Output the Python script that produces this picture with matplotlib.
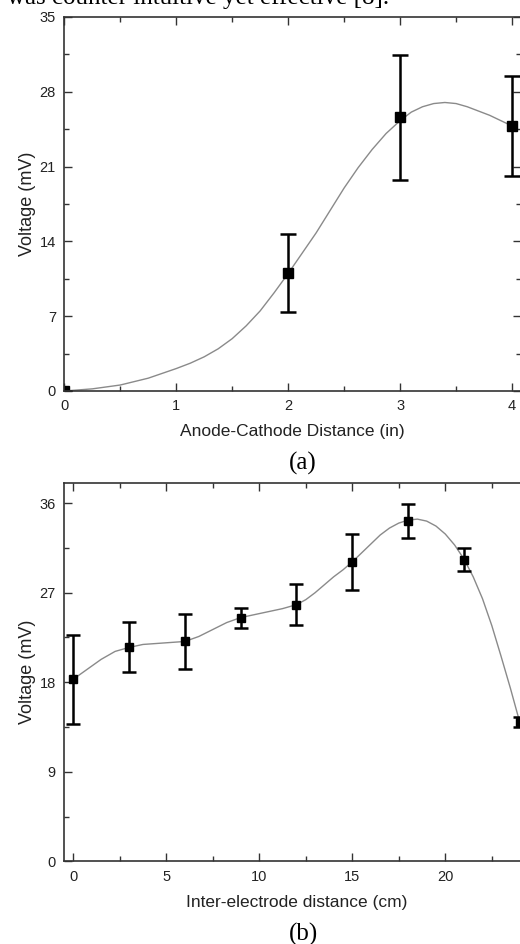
'''two voltage vs distance panels with error bars'''
import matplotlib
matplotlib.use('Agg')
import matplotlib.pyplot as plt
from matplotlib.ticker import MultipleLocator

# panel (a): anode-cathode distance
dist_a = [0, 2, 3, 4]
volt_a = [0.0, 11.0, 25.6, 24.8]
err_a = [0.0, 3.65, 5.85, 4.7]
# smooth fitted curve
fit_a_x = [0, 0.25, 0.5, 0.75, 1.0, 1.125, 1.25, 1.375, 1.5, 1.625, 1.75,
           1.875, 2.0, 2.125, 2.25, 2.375, 2.5, 2.625, 2.75, 2.875, 3.0, 3.1,
           3.2, 3.3, 3.4, 3.5, 3.6, 3.7, 3.8, 3.9, 4.0]
fit_a_y = [0.0, 0.2, 0.56, 1.2, 2.1, 2.6, 3.2, 3.95, 4.9, 6.1, 7.5,
           9.2, 11.0, 12.9, 14.8, 16.9, 19.0, 20.9, 22.6, 24.1, 25.3, 26.1,
           26.6, 26.9, 27.0, 26.9, 26.6, 26.2, 25.8, 25.3, 24.8]

# panel (b): inter-electrode distance
dist_b = [0, 3, 6, 9, 12, 15, 18, 21, 24]
volt_b = [18.3, 21.55, 22.1, 24.5, 25.8, 30.1, 34.2, 30.3, 14.0]
err_b = [4.45, 2.55, 2.75, 1.0, 2.05, 2.8, 1.7, 1.15, 0.5]
fit_b_x = [0, 0.75, 1.5, 2.25, 3, 3.75, 4.5, 5.25, 6, 6.75, 7.5, 8.25, 9,
           9.75, 10.5, 11.25, 12, 12.5, 13, 13.5, 14, 14.5, 15, 15.5, 16,
           16.5, 17, 17.5, 18, 18.5, 19, 19.5, 20, 20.5, 21, 21.5, 22, 22.5,
           23, 23.5, 24]
fit_b_y = [18.3, 19.3, 20.3, 21.1, 21.5, 21.8, 21.9, 22.0, 22.1, 22.6, 23.3,
           24.0, 24.5, 24.8, 25.1, 25.4, 25.8, 26.3, 27.0, 27.8, 28.6, 29.3,
           30.1, 31.0, 31.9, 32.8, 33.5, 34.0, 34.3, 34.4, 34.2, 33.7, 32.9,
           31.8, 30.4, 28.6, 26.4, 23.7, 20.6, 17.4, 14.0]

W, H = 520, 944
plt.rcParams['font.family'] = ['Liberation Sans', 'DejaVu Sans']
fig = plt.figure(figsize=(W / 100, H / 100), dpi=100)


def px_axes(left, top, right, bottom):
    return fig.add_axes([left / W, 1 - bottom / H, (right - left) / W,
                         (bottom - top) / H])


def style(ax):
    for s in ax.spines.values():
        s.set_color('#333333')
        s.set_linewidth(1.2)
    ax.tick_params(which='both', direction='in', top=True, right=True,
                   colors='#333333', labelcolor='#222222', labelsize=10.5,
                   width=1.0)
    ax.tick_params(which='major', length=6, pad=6)
    ax.tick_params(which='minor', length=3.5)


# (a)
ax1 = px_axes(64.3, 17, 521, 391)
ax1.plot(fit_a_x, fit_a_y, color='#8a8a8a', lw=1.0)
ax1.errorbar(dist_a, volt_a, yerr=err_a, fmt='s', color='black', ms=7,
             elinewidth=1.8, capsize=5.5, capthick=1.8)
ax1.set_xlim(0, 4.08)
ax1.set_ylim(0, 35)
ax1.xaxis.set_major_locator(MultipleLocator(1))
ax1.xaxis.set_minor_locator(MultipleLocator(0.5))
ax1.yaxis.set_major_locator(MultipleLocator(7))
ax1.yaxis.set_minor_locator(MultipleLocator(3.5))
style(ax1)
ax1.set_xlabel('Anode-Cathode Distance (in)', fontsize=12.5, color='#222222',
               labelpad=8)
ax1.set_ylabel('Voltage (mV)', fontsize=13, color='#222222', labelpad=3)

# (b)
ax2 = px_axes(64.3, 483.3, 529, 861.3)
ax2.plot(fit_b_x, fit_b_y, color='#8a8a8a', lw=1.0)
ax2.errorbar(dist_b, volt_b, yerr=err_b, fmt='s', color='black', ms=5.5,
             elinewidth=1.8, capsize=5, capthick=1.8)
ax2.set_xlim(-0.48, 24.5)
ax2.set_ylim(0, 38)
ax2.xaxis.set_major_locator(MultipleLocator(5))
ax2.xaxis.set_minor_locator(MultipleLocator(2.5))
ax2.yaxis.set_major_locator(MultipleLocator(9))
ax2.yaxis.set_minor_locator(MultipleLocator(4.5))
style(ax2)
ax2.set_xlabel('Inter-electrode distance (cm)', fontsize=12.5,
               color='#222222', labelpad=8)
ax2.set_ylabel('Voltage (mV)', fontsize=13, color='#222222', labelpad=3)

# captions and the cut-off line of body text above
serif = ['Liberation Serif', 'DejaVu Serif']
fig.text(303 / W, 1 - 463 / H, '(a)', family=serif, fontsize=18,
         ha='center', va='center')
fig.text(304 / W, 1 - 934 / H, '(b)', family=serif, fontsize=18,
         ha='center', va='center')
fig.text(7 / W, 1 - 4 / H, 'was counter intuitive yet effective [8].',
         family=serif, fontsize=18, ha='left', va='baseline')

fig.savefig('out.png', dpi=100)
